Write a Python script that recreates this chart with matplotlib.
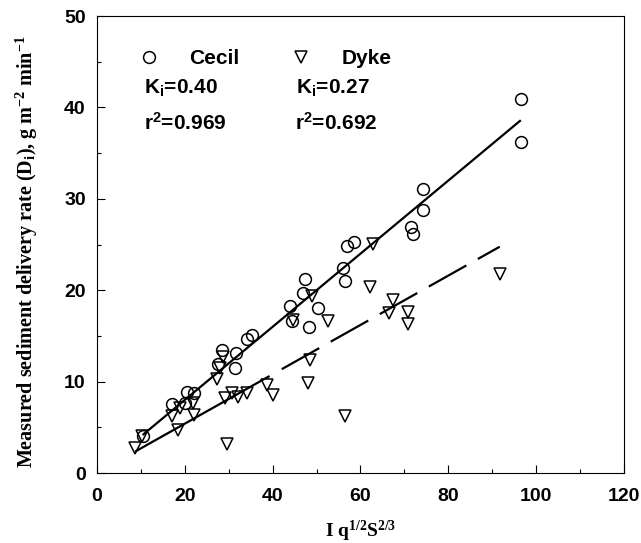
import matplotlib
matplotlib.use("Agg")
import matplotlib.pyplot as plt
import numpy as np

# Cecil soil (circles)
cecil_x = [10.4, 17.0, 20.0, 20.4, 22.1, 27.6, 28.4, 31.4, 31.6, 34.1, 35.2, 43.9, 44.5,
           47.0, 47.4, 48.3, 50.4, 56.1, 56.5, 56.9, 58.6, 71.5, 72.0, 74.3, 74.3, 96.5, 96.5]
cecil_y = [4.1, 7.6, 7.7, 8.9, 8.7, 11.9, 13.5, 11.5, 13.1, 14.7, 15.1, 18.3, 16.6,
           19.7, 21.2, 16.0, 18.0, 22.4, 21.0, 24.8, 25.3, 26.9, 26.1, 28.8, 31.1, 40.9, 36.2]

# Dyke soil (triangles)
dyke_x = [8.7, 10.2, 17.0, 18.5, 18.9, 21.9, 22.1, 27.3, 27.9, 28.8, 29.1, 29.5, 30.7, 32.2,
          34.1, 38.8, 40.1, 44.7, 48.1, 48.5, 48.9, 52.7, 56.4, 62.2, 62.9, 66.5, 67.3, 70.9,
          70.9, 91.7]
dyke_y = [2.7, 4.1, 6.2, 4.7, 7.1, 7.7, 6.3, 10.3, 11.5, 12.7, 8.2, 3.2, 8.7, 8.3,
          8.7, 9.6, 8.5, 16.7, 9.9, 12.4, 19.4, 16.6, 6.2, 20.4, 25.1, 17.5, 18.9, 17.6,
          16.3, 21.8]

# fitted coefficients (D = Ki * x) and r^2
ki_cecil, r2_cecil = 0.40, 0.969
ki_dyke, r2_dyke = 0.27, 0.692

plt.rcParams['font.family'] = ['Liberation Sans', 'DejaVu Sans']
plt.rcParams['lines.scale_dashes'] = False

fig = plt.figure(figsize=(6.41, 5.43), dpi=100)
ax = fig.add_axes([0.1513, 0.1289, 0.8222, 0.8416])

# regression lines over the range of each data set
xc = np.array([min(cecil_x), max(cecil_x)])
ax.plot(xc, ki_cecil * xc, color='black', lw=1.6, solid_capstyle='butt')
xd = np.array([min(dyke_x), max(dyke_x)])
ax.plot(xd, ki_dyke * xd, color='black', lw=1.6,
        linestyle=(0, (111, 10, 31, 9.5, 31, 9.5, 31, 9.5, 31, 9.5, 31, 9.5)))

ax.plot(cecil_x, cecil_y, 'o', ms=8.5, mfc='none', mec='black', mew=1.1, label='Cecil')
ax.plot(dyke_x, dyke_y, 'v', ms=8.5, mfc='none', mec='black', mew=1.1, label='Dyke')

ax.set_xlim(0, 120)
ax.set_ylim(0, 50)
ax.set_xticks(np.arange(0, 121, 20))
ax.set_xticks(np.arange(10, 120, 20), minor=True)
ax.set_yticks(np.arange(0, 51, 10))
ax.set_yticks(np.arange(5, 50, 10), minor=True)
ax.tick_params(which='both', direction='in', top=False, right=False, width=0.8)
ax.tick_params(which='major', length=5.5, labelsize=14)
ax.tick_params(axis='x', which='major', pad=11)
ax.tick_params(axis='y', which='major', pad=8)
ax.tick_params(which='minor', length=3)
for lab in ax.get_xticklabels() + ax.get_yticklabels():
    lab.set_fontweight('bold')
for sp in ax.spines.values():
    sp.set_linewidth(0.8)

ax.set_xlabel(r'I q$\mathregular{^{1/2}}$S$\mathregular{^{2/3}}$', fontfamily='Liberation Serif',
              fontweight='bold', fontsize=14, labelpad=10)
ax.set_ylabel(r'Measured sediment delivery rate (D$\mathregular{_i}$), g m$\mathregular{^{-2}}$ min$\mathregular{^{-1}}$',
              fontfamily='Liberation Serif', fontweight='bold', fontsize=14.5)
ax.yaxis.set_label_coords(-0.108, 0.484)

ax.legend(loc='upper left', bbox_to_anchor=(0.078, 0.928), ncol=2, frameon=False,
          prop={'weight': 'bold', 'size': 15}, handlelength=1, handletextpad=1.45,
          columnspacing=2.45, borderpad=0, borderaxespad=0)

ax.text(0.089, 0.829, r'K$\mathregular{_i}$=%.2f' % ki_cecil, transform=ax.transAxes,
        fontsize=15, fontweight='bold', va='baseline')
ax.text(0.089, 0.7505, r'r$\mathregular{^2}$=%.3f' % r2_cecil, transform=ax.transAxes,
        fontsize=15, fontweight='bold', va='baseline')
ax.text(0.3785, 0.829, r'K$\mathregular{_i}$=%.2f' % ki_dyke, transform=ax.transAxes,
        fontsize=15, fontweight='bold', va='baseline')
ax.text(0.375, 0.7505, r'r$\mathregular{^2}$=%.3f' % r2_dyke, transform=ax.transAxes,
        fontsize=15, fontweight='bold', va='baseline')

fig.savefig('out.png', dpi=100)
